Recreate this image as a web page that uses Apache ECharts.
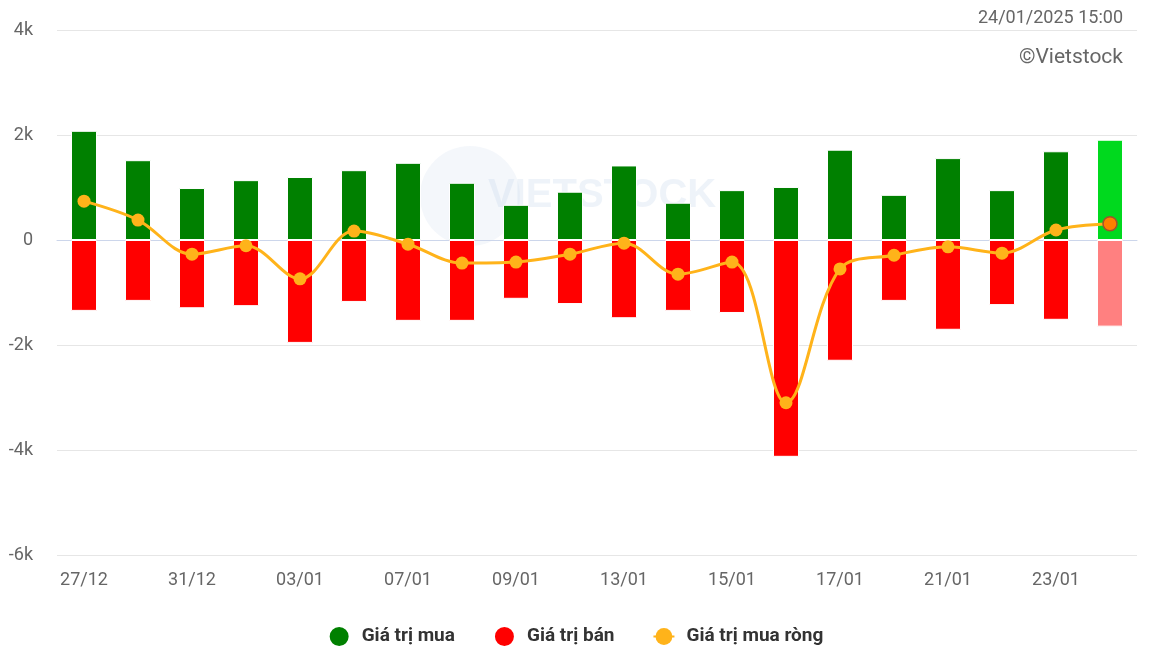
<!DOCTYPE html>
<html>
<head>
<meta charset="utf-8">
<title>ECharts</title>
<script src="https://cdn.jsdelivr.net/npm/echarts@6/dist/echarts.min.js"></script>
<style>
  html, body { height: 100%; margin: 0; background: #fff; }
</style>
</head>
<body>
<div id="main" style="width:1151px;height:646px;"></div>
<script type="text/javascript">
// ngày giao dịch
var days = ['27/12', '30/12', '31/12', '02/01', '03/01', '06/01', '07/01', '08/01', '09/01', '10/01',
            '13/01', '14/01', '15/01', '16/01', '17/01', '20/01', '21/01', '22/01', '23/01', '24/01'];
var buyValues = [2080, 1520, 990, 1140, 1200, 1330, 1470, 1090, 670, 920,
                 1420, 710, 950, 1010, 1720, 860, 1560, 950, 1690, 1910];
var sellValues = [-1350, -1160, -1300, -1260, -1960, -1180, -1540, -1540, -1120, -1220,
                  -1490, -1350, -1390, -4130, -2300, -1160, -1710, -1240, -1520, -1650];
var netValues = [740, 380, -270, -110, -740, 170, -80, -440, -420, -270,
                 -60, -650, -420, -3100, -550, -290, -130, -250, 190, 310];
var yTicks = [-6000, -4000, -2000, 0, 2000, 4000];

var last = days.length - 1;

function buyData() {
  return buyValues.map(function (v, i) {
    if (i === last) return { value: v, itemStyle: { color: '#00D91E' } };
    return v;
  });
}
function sellData() {
  return sellValues.map(function (v, i) {
    if (i === last) return { value: v, itemStyle: { color: '#FF8080' } };
    return v;
  });
}
function netData() {
  return netValues.map(function (v, i) {
    if (i === last) return { value: v, symbolSize: 14, itemStyle: { color: '#FF7F00', borderColor: '#A0522D', borderWidth: 1.5 } };
    return v;
  });
}

var dom = document.getElementById('main');
var myChart = echarts.init(dom);
var option = {
  animation: false,
  textStyle: { fontFamily: 'Roboto' },
  title: [
    { text: '24/01/2025 15:00', right: 23, top: 4,
      textStyle: { fontSize: 18, fontWeight: 'normal', color: '#666' } },
    { text: '©Vietstock', right: 23, top: 42,
      textStyle: { fontSize: 21, fontWeight: 'normal', color: '#666' } }
  ],
  graphic: [
    { type: 'circle', shape: { cx: 470, cy: 196, r: 50 }, style: { fill: 'rgba(205,220,238,0.22)' }, z: -1 },
    { type: 'text', left: 488, top: 176, z: -1,
      style: { text: 'VIETSTOCK', fontSize: 40, fontWeight: 'bold', fill: 'rgba(200,215,235,0.3)' } }
  ],
  legend: {
    top: 620,
    left: 'center',
    itemGap: 38,
    itemWidth: 21,
    itemHeight: 21,
    textStyle: { fontSize: 19, fontWeight: 'bold', color: '#333', padding: [0, 0, 0, 7] },
    data: [
      { name: 'Giá trị mua', icon: 'circle' },
      { name: 'Giá trị bán', icon: 'circle' },
      { name: 'Giá trị mua ròng' }
    ]
  },
  grid: { left: 57, right: 14, top: 30, bottom: 91 },
  xAxis: {
    type: 'category',
    data: days,
    axisLine: { lineStyle: { color: '#ccd6eb' } },
    axisTick: { show: false },
    axisLabel: { interval: 1, color: '#666', fontSize: 18, margin: 16 },
    splitLine: { show: false }
  },
  yAxis: {
    type: 'value',
    min: yTicks[0],
    max: yTicks[yTicks.length - 1],
    interval: 2000,
    axisLine: { show: false },
    axisTick: { show: false },
    axisLabel: {
      color: '#666', fontSize: 18, margin: 24,
      formatter: function (v) { return v === 0 ? '0' : (v / 1000) + 'k'; }
    },
    splitLine: { lineStyle: { color: '#e6e6e6', width: 1 } }
  },
  series: [
    {
      name: 'Giá trị mua',
      type: 'bar',
      barWidth: 26,
      barGap: '-100%',
      itemStyle: { color: '#008000', borderColor: '#fff', borderWidth: 1 },
      data: buyData()
    },
    {
      name: 'Giá trị bán',
      type: 'bar',
      barWidth: 26,
      barGap: '-100%',
      itemStyle: { color: '#FF0000', borderColor: '#fff', borderWidth: 1 },
      data: sellData()
    },
    {
      name: 'Giá trị mua ròng',
      type: 'line',
      smooth: 0.35,
      symbol: 'circle',
      symbolSize: 13,
      lineStyle: { width: 3, color: '#FFB31A' },
      itemStyle: { color: '#FFB31A' },
      z: 5,
      data: netData()
    }
  ]
};
myChart.setOption(option);
</script>
</body>
</html>
